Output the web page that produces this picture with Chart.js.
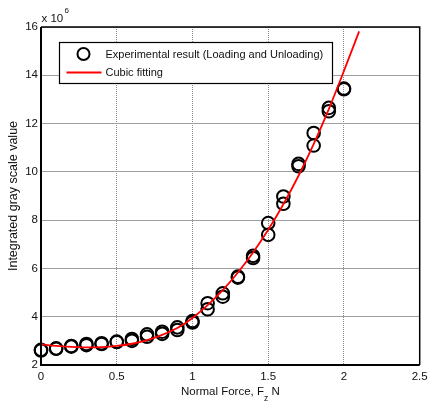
<!DOCTYPE html>
<html>
<head>
<meta charset="utf-8">
<script src="https://cdn.jsdelivr.net/npm/chart.js@4/dist/chart.umd.min.js"></script>
<style>
  html, body { margin: 0; padding: 0; background: #fff; }
  #c { display: block; }
</style>
</head>
<body>
<canvas id="c" width="428" height="405"></canvas>
<script>
// ---- data (values in units of 1e6) ----
const forces = [0, 0.1, 0.2, 0.3, 0.4, 0.5, 0.6, 0.7, 0.8, 0.9, 1.0, 1.1, 1.2, 1.3, 1.4, 1.5, 1.6, 1.7, 1.8, 1.9, 2.0];
const loadingVals   = [2.60, 2.69, 2.79, 2.87, 2.90, 2.97, 3.08, 3.27, 3.38, 3.56, 3.82, 4.56, 4.97, 5.66, 6.52, 7.88, 8.98, 10.33, 11.61, 12.65, 13.45];
const unloadingVals = [2.63, 2.67, 2.76, 2.82, 2.87, 2.95, 3.00, 3.17, 3.29, 3.45, 3.76, 4.31, 4.83, 5.62, 6.43, 7.39, 8.68, 10.23, 11.09, 12.51, 13.42];
const fitForces = [0, 0.1, 0.2, 0.3, 0.4, 0.5, 0.6, 0.7, 0.8, 0.9, 1.0, 1.1, 1.2, 1.3, 1.4, 1.5, 1.6, 1.7, 1.8, 1.9, 2.0, 2.1];
const fitVals   = [2.86, 2.79, 2.75, 2.73, 2.74, 2.79, 2.88, 3.03, 3.25, 3.53, 3.95, 4.48, 5.10, 5.83, 6.66, 7.60, 8.66, 9.84, 11.15, 12.60, 14.18, 15.82];
const xTicks = [0, 0.5, 1, 1.5, 2, 2.5];
const xTickLabels = ['0', '0.5', '1', '1.5', '2', '2.5'];
const yTicks = [2, 4, 6, 8, 10, 12, 14, 16];
const yTickLabels = ['2', '4', '6', '8', '10', '12', '14', '16'];
const legendLabels = ['Experimental result (Loading and Unloading)', 'Cubic fitting'];
const yTitle = 'Integrated gray scale value';

const FONT = '"Liberation Sans", Arial, sans-serif';

const expPoints = [];
forces.forEach((f, i) => { expPoints.push({ x: f, y: loadingVals[i] }); });
forces.forEach((f, i) => { expPoints.push({ x: f, y: unloadingVals[i] }); });
const fitPoints = fitForces.map((f, i) => ({ x: f, y: fitVals[i] }));

const decor = {
  id: 'decor',
  afterDatasetsDraw(chart) {
    const ctx = chart.ctx, a = chart.chartArea;
    ctx.save();
    ctx.strokeStyle = '#000';
    ctx.lineWidth = 1.5;
    ctx.beginPath();
    ctx.moveTo(a.left, a.top); ctx.lineTo(a.right, a.top); ctx.lineTo(a.right, a.bottom);
    ctx.stroke();
    ctx.lineWidth = 2;
    ctx.beginPath();
    ctx.moveTo(a.left, a.top); ctx.lineTo(a.left, a.bottom); ctx.lineTo(a.right, a.bottom);
    ctx.stroke();
    ctx.restore();
  },
  afterDraw(chart) {
    const ctx = chart.ctx, a = chart.chartArea;
    ctx.save();
    // legend box
    const lx = a.left + 18.5, ly = a.top + 15.5, lw = 273, lh = 41;
    ctx.fillStyle = '#fff';
    ctx.fillRect(lx, ly, lw, lh);
    ctx.strokeStyle = '#000';
    ctx.lineWidth = 1.2;
    ctx.strokeRect(lx, ly, lw, lh);
    // marker entry
    ctx.lineWidth = 2;
    ctx.beginPath();
    ctx.arc(lx + 24, ly + 11.5, 6, 0, Math.PI * 2);
    ctx.stroke();
    // line entry
    ctx.strokeStyle = '#ff0000';
    ctx.lineWidth = 1.8;
    ctx.beginPath();
    ctx.moveTo(lx + 7, ly + 30); ctx.lineTo(lx + 42, ly + 30);
    ctx.stroke();
    ctx.fillStyle = '#111';
    ctx.font = '11px ' + FONT;
    ctx.textBaseline = 'middle';
    ctx.textAlign = 'left';
    ctx.fillText(legendLabels[0], lx + 46, ly + 12);
    ctx.fillText(legendLabels[1], lx + 46, ly + 30.5);

    // exponent label x 10^6
    ctx.font = '11.5px ' + FONT;
    ctx.fillText('x 10', a.left + 0.5, 18.5);
    ctx.font = '8px ' + FONT;
    ctx.fillText('6', a.left + 23.5, 10.5);

    // x axis title with subscript
    const cx = (a.left + a.right) / 2;
    ctx.font = '11.5px ' + FONT;
    const p1 = 'Normal Force, F', p3 = ' N';
    const w1 = ctx.measureText(p1).width, w3 = ctx.measureText(p3).width;
    ctx.font = '8.5px ' + FONT;
    const w2 = ctx.measureText('z').width;
    let x0 = cx - (w1 + w2 + w3) / 2;
    ctx.font = '11.5px ' + FONT;
    ctx.fillText(p1, x0, 392);
    ctx.font = '8.5px ' + FONT;
    ctx.fillText('z', x0 + w1, 398.5);
    ctx.font = '11.5px ' + FONT;
    ctx.fillText(p3, x0 + w1 + w2, 392);

    // y axis title
    ctx.translate(13.5, (a.top + a.bottom) / 2);
    ctx.rotate(-Math.PI / 2);
    ctx.textAlign = 'center';
    ctx.font = '12.5px ' + FONT;
    ctx.fillText(yTitle, 0, 0);
    ctx.restore();
  }
};

new Chart(document.getElementById('c'), {
  type: 'scatter',
  data: {
    datasets: [
      {
        label: legendLabels[1],
        data: fitPoints,
        showLine: true,
        borderColor: '#ff0000',
        borderWidth: 1.8,
        pointRadius: 0,
        cubicInterpolationMode: 'monotone',
        fill: false,
        order: 0,
        clip: false
      },
      {
        label: legendLabels[0],
        data: expPoints,
        showLine: false,
        pointStyle: 'circle',
        pointRadius: 6.3,
        pointBorderWidth: 2,
        borderColor: '#000',
        backgroundColor: 'rgba(0,0,0,0)',
        order: 1,
        clip: false
      }
    ]
  },
  options: {
    responsive: false,
    animation: false,
    devicePixelRatio: 1,
    layout: { padding: { top: 27, right: 0, left: 0, bottom: 0 } },
    plugins: { legend: { display: false }, tooltip: { enabled: false } },
    scales: {
      x: {
        type: 'linear', min: 0, max: 2.5,
        afterBuildTicks: s => { s.ticks = xTicks.map(v => ({ value: v })); },
        afterFit: s => { s.height = 40; s.paddingRight = 7; s.paddingLeft = 0; },
        ticks: { color: '#111', font: { family: FONT, size: 11.5 }, padding: 5, maxRotation: 0,
                 callback: (v, i) => xTickLabels[i] },
        grid: { color: '#8a8a8a', lineWidth: 1, drawTicks: false },
        border: { display: false, dash: [1, 1] }
      },
      y: {
        type: 'linear', min: 2, max: 16,
        afterBuildTicks: s => { s.ticks = yTicks.map(v => ({ value: v })); },
        afterFit: s => { s.width = 41; },
        ticks: { color: '#111', font: { family: FONT, size: 11.5 }, padding: 3,
                 callback: (v, i) => yTickLabels[i] },
        grid: { color: '#a0a0a0', lineWidth: 1, drawTicks: false },
        border: { display: false }
      }
    }
  },
  plugins: [decor]
});
</script>
</body>
</html>
